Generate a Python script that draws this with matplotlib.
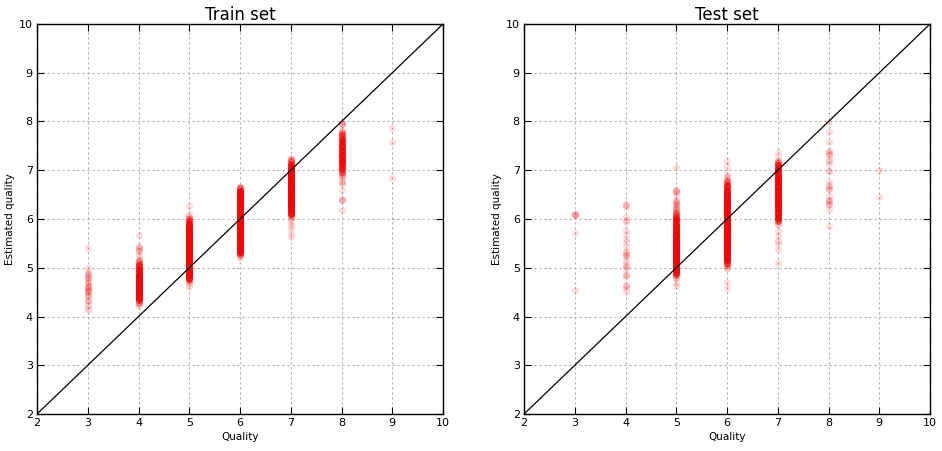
import numpy as np
import matplotlib
matplotlib.use("Agg")
import matplotlib.pyplot as plt

# estimated quality per true quality
# values are paired with how many points seem stacked there
train_3 = [4.14, 4.17, 4.24, 4.31, 4.38, 4.44, 4.50, 4.52, 4.57, 4.61, 4.63,
           4.68, 4.72, 4.78, 4.82, 4.87, 4.92, 4.99, 5.41]
train_3_n = [1, 1, 1, 2, 1, 2, 2, 1, 2, 2, 1, 2, 1, 2, 1, 2, 1, 1, 1]
train_4 = [4.22, 4.28, 4.33, 4.38, 4.43, 4.48, 4.53, 4.58, 4.63, 4.68, 4.73,
           4.78, 4.83, 4.88, 4.93, 4.98, 5.03, 5.08, 5.13, 5.20, 5.27, 5.35,
           5.40, 5.45, 5.68]
train_4_n = [1, 4, 8, 12, 15, 16, 16, 18, 18, 18, 16, 15, 13, 12, 10, 9, 8, 6,
             4, 1, 1, 2, 2, 1, 1]
train_5 = [4.60, 4.68, 4.75, 4.80, 4.85, 4.90, 4.95, 5.00, 5.05, 5.10, 5.15,
           5.20, 5.25, 5.30, 5.35, 5.40, 5.45, 5.50, 5.55, 5.60, 5.65, 5.70,
           5.75, 5.80, 5.85, 5.90, 5.95, 6.00, 6.05, 6.10, 6.27]
train_5_n = [1, 2, 5, 12, 16, 18, 20, 22, 22, 22, 22, 22, 22, 22, 22, 22, 20,
             20, 19, 18, 18, 16, 15, 14, 12, 10, 8, 4, 2, 1, 1]
train_6 = [5.23, 5.28, 5.33, 5.38, 5.43, 5.48, 5.53, 5.58, 5.63, 5.68, 5.73,
           5.78, 5.83, 5.88, 5.93, 5.98, 6.03, 6.08, 6.13, 6.18, 6.23, 6.28,
           6.33, 6.38, 6.43, 6.48, 6.53, 6.58, 6.63, 6.66]
train_6_n = [2, 6, 14, 18, 20, 22, 22, 22, 22, 22, 22, 22, 22, 22, 22, 22, 22,
             22, 22, 22, 20, 20, 19, 18, 17, 16, 14, 11, 5, 2]
train_7 = [5.64, 5.72, 5.81, 5.88, 5.94, 6.03, 6.08, 6.13, 6.18, 6.23, 6.28,
           6.33, 6.38, 6.43, 6.48, 6.53, 6.58, 6.63, 6.68, 6.73, 6.78, 6.83,
           6.88, 6.93, 6.98, 7.03, 7.08, 7.13, 7.18, 7.23, 7.26]
train_7_n = [1, 1, 1, 1, 1, 2, 6, 12, 15, 16, 16, 17, 18, 18, 18, 18, 18, 18,
             18, 18, 18, 18, 18, 18, 16, 15, 12, 8, 5, 2, 1]
train_8 = [6.18, 6.39, 6.42, 6.60, 6.73, 6.78, 6.87, 6.92, 6.97, 7.02, 7.07,
           7.12, 7.17, 7.22, 7.27, 7.32, 7.37, 7.42, 7.47, 7.52, 7.57, 7.62,
           7.67, 7.72, 7.77, 7.80, 7.95, 7.98]
train_8_n = [1, 2, 1, 1, 2, 1, 2, 3, 5, 7, 8, 8, 8, 9, 9, 9, 9, 9, 8, 8, 8, 7,
             6, 6, 4, 2, 3, 1]
train_9 = [6.84, 7.58, 7.86]
train_9_n = [1, 1, 1]

test_3 = [4.55, 5.72, 6.09, 6.11]
test_3_n = [1, 1, 2, 2]
test_4 = [4.51, 4.58, 4.62, 4.65, 4.82, 4.85, 4.88, 4.99, 5.02, 5.05, 5.12,
          5.20, 5.26, 5.30, 5.33, 5.43, 5.53, 5.60, 5.70, 5.77, 5.94, 5.97,
          6.04, 6.25, 6.28, 6.31]
test_4_n = [1, 1, 1, 1, 1, 1, 1, 1, 1, 1, 1, 1, 2, 1, 1, 1, 1, 1, 1, 1, 1, 1,
            1, 1, 1, 1]
test_5 = [4.63, 4.69, 4.79, 4.85, 4.90, 4.95, 5.00, 5.05, 5.10, 5.15, 5.20,
          5.25, 5.30, 5.35, 5.40, 5.45, 5.50, 5.55, 5.60, 5.65, 5.70, 5.75,
          5.80, 5.85, 5.90, 5.95, 6.00, 6.05, 6.10, 6.15, 6.20, 6.25, 6.30,
          6.35, 6.40, 6.48, 6.55, 6.60, 7.06]
test_5_n = [1, 1, 2, 4, 12, 15, 18, 18, 18, 18, 18, 18, 18, 18, 16, 16, 15,
            15, 15, 14, 14, 12, 12, 12, 11, 10, 9, 7, 5, 3, 2, 2, 2, 2, 1, 1,
            2, 2, 1]
test_6 = [4.59, 4.71, 4.99, 5.05, 5.10, 5.15, 5.20, 5.25, 5.30, 5.35, 5.40,
          5.45, 5.50, 5.55, 5.60, 5.65, 5.70, 5.75, 5.80, 5.85, 5.90, 5.95,
          6.00, 6.05, 6.10, 6.15, 6.20, 6.25, 6.30, 6.35, 6.40, 6.45, 6.50,
          6.55, 6.60, 6.65, 6.70, 6.75, 6.80, 6.86, 6.93, 7.06, 7.20]
test_6_n = [1, 1, 2, 3, 8, 10, 12, 12, 13, 15, 15, 15, 15, 15, 15, 15, 15, 15,
            15, 15, 15, 15, 15, 15, 15, 15, 15, 13, 13, 12, 12, 12, 10, 10, 9,
            8, 7, 5, 2, 2, 1, 1, 1]
test_7 = [5.10, 5.38, 5.50, 5.55, 5.65, 5.75, 5.90, 5.95, 6.00, 6.05, 6.10,
          6.15, 6.20, 6.25, 6.30, 6.35, 6.40, 6.45, 6.50, 6.55, 6.60, 6.65,
          6.70, 6.75, 6.80, 6.85, 6.90, 6.95, 7.00, 7.05, 7.10, 7.15, 7.20,
          7.27, 7.37]
test_7_n = [1, 1, 1, 1, 1, 1, 2, 5, 8, 9, 10, 10, 10, 12, 12, 12, 12, 12, 12,
            12, 12, 12, 12, 12, 12, 12, 12, 10, 10, 9, 8, 5, 2, 1, 1]
test_8 = [5.85, 6.21, 6.30, 6.35, 6.40, 6.48, 6.62, 6.66, 6.70, 6.76, 6.99,
          7.13, 7.18, 7.23, 7.33, 7.38, 7.40, 7.57, 7.78, 7.98]
test_8_n = [1, 1, 2, 1, 2, 1, 2, 1, 1, 1, 2, 1, 1, 1, 2, 1, 1, 1, 1, 1]
test_9 = [6.46, 7.00]
test_9_n = [1, 1]

qualities = [3, 4, 5, 6, 7, 8, 9]
train_cols = [(train_3, train_3_n), (train_4, train_4_n), (train_5, train_5_n),
              (train_6, train_6_n), (train_7, train_7_n), (train_8, train_8_n),
              (train_9, train_9_n)]
test_cols = [(test_3, test_3_n), (test_4, test_4_n), (test_5, test_5_n),
             (test_6, test_6_n), (test_7, test_7_n), (test_8, test_8_n),
             (test_9, test_9_n)]
lims = [2, 10]
titles = ["Train set", "Test set"]


def expand(cols):
    xs, ys = [], []
    for q, (vals, counts) in zip(qualities, cols):
        y = np.repeat(vals, counts)
        ys.append(y)
        xs.append(np.full(len(y), q))
    return np.concatenate(xs), np.concatenate(ys)


fig = plt.figure(figsize=(9.42, 4.51), dpi=100)
boxes = [[0.0393, 0.082, 0.431, 0.8648], [0.5563, 0.082, 0.431, 0.8648]]

for box, cols, title in zip(boxes, [train_cols, test_cols], titles):
    ax = fig.add_axes(box)
    x, y = expand(cols)
    ax.plot(x, y, "o", color="red", alpha=0.11, markersize=4.3,
            markeredgecolor="red", markeredgewidth=0.7, zorder=2)
    ax.plot(lims, lims, color="black", lw=0.9, zorder=3)
    ax.set_xlim(lims)
    ax.set_ylim(lims)
    ax.set_xticks(range(2, 11))
    ax.set_yticks(range(2, 11))
    ax.grid(True, color="#b0b0b0", linestyle=(0, (2, 2.5)), linewidth=0.8)
    ax.set_axisbelow(True)
    ax.tick_params(direction="in", top=True, right=True, labelsize=8,
                   length=5, width=0.8, pad=3)
    for s in ax.spines.values():
        s.set_linewidth(1.0)
    ax.set_title(title, fontsize=12, pad=3)
    ax.set_xlabel("Quality", fontsize=7.5, labelpad=3)
    ax.set_ylabel("Estimated quality", fontsize=7.5, labelpad=3)

plt.savefig("out.png", dpi=100)
